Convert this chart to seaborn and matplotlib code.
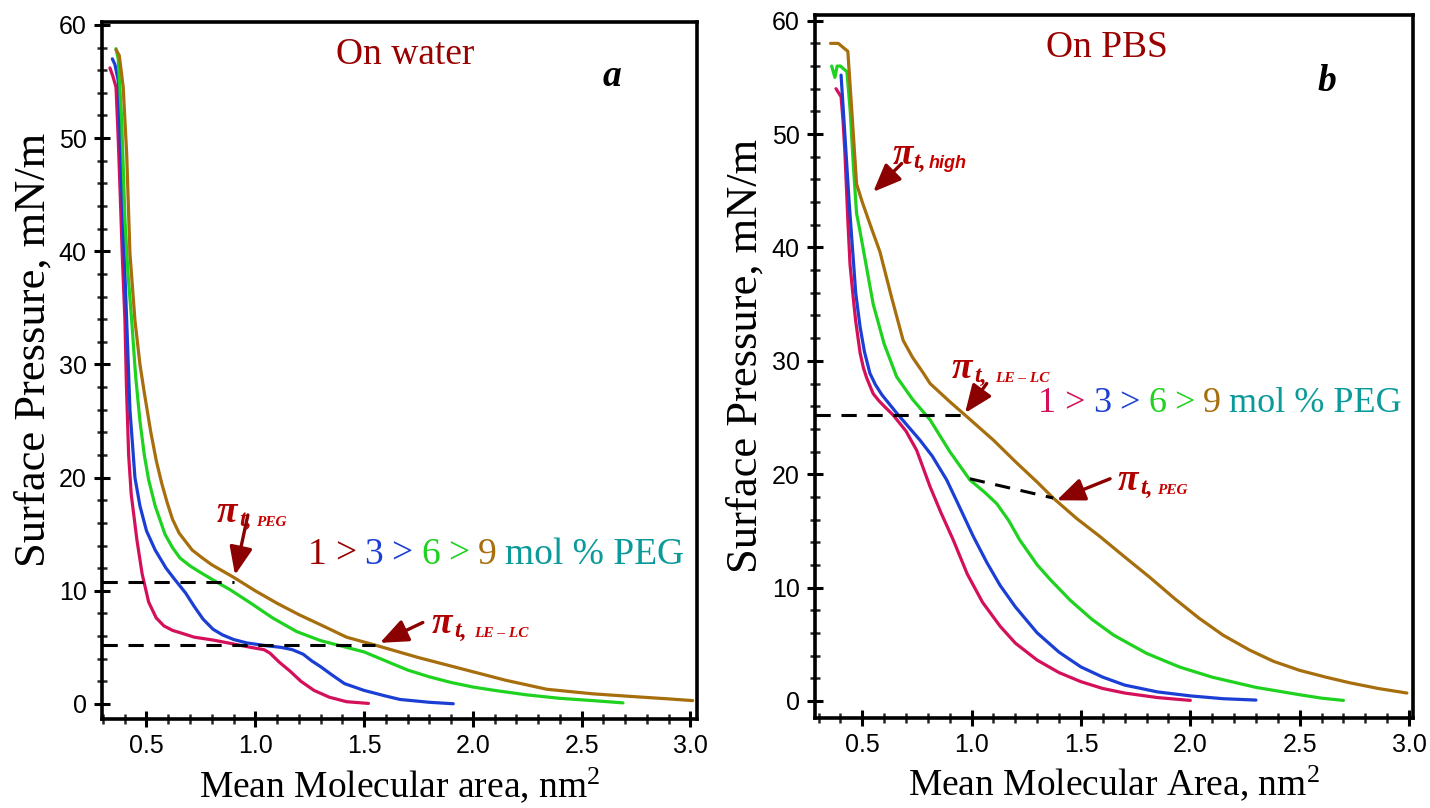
import numpy as np
import pandas as pd
import matplotlib
matplotlib.use("Agg")
import matplotlib.pyplot as plt
import seaborn as sns
from matplotlib.ticker import MultipleLocator
from matplotlib.offsetbox import TextArea, HPacker, AnchoredOffsetbox

# ---------------- data: Langmuir isotherms (area nm^2, pressure mN/m) ----------------
# (a) on water
water_1_x = [0.332, 0.345, 0.36, 0.37, 0.378, 0.39, 0.401, 0.408, 0.418, 0.43, 0.456, 0.48, 0.51,
             0.545, 0.58, 0.62, 0.654, 0.72, 0.806, 0.9, 0.98, 1.04, 1.067, 1.11, 1.16, 1.21, 1.27,
             1.34, 1.42, 1.52]
water_1_y = [56.2, 55.5, 54.5, 50.0, 45.7, 39.0, 33.9, 28.0, 22.0, 18.5, 14.5, 11.5, 9.0,
             7.6, 6.9, 6.5, 6.3, 5.9, 5.65, 5.3, 5.0, 4.8, 4.5, 3.7, 2.9, 2.0, 1.2,
             0.6, 0.2, 0.05]
water_3_x = [0.343, 0.355, 0.37, 0.378, 0.386, 0.397, 0.409, 0.424, 0.447, 0.47, 0.50, 0.54, 0.59,
             0.63, 0.68, 0.72, 0.76, 0.806, 0.85, 0.9, 0.96, 1.05, 1.12, 1.17, 1.22, 1.26, 1.30,
             1.35, 1.41, 1.5, 1.6, 1.665, 1.8, 1.91]
water_3_y = [57.0, 56.5, 55.1, 50.5, 45.7, 40.0, 33.9, 26.0, 20.0, 17.5, 15.3, 13.6, 12.0,
             11.0, 9.8, 8.6, 7.5, 6.6, 6.1, 5.7, 5.4, 5.15, 5.0, 4.8, 4.4, 3.8, 3.3,
             2.6, 1.8, 1.2, 0.7, 0.4, 0.15, 0.02]
water_6_x = [0.36, 0.37, 0.386, 0.401, 0.415, 0.432, 0.45, 0.47, 0.49, 0.51, 0.54, 0.585, 0.62,
             0.654, 0.70, 0.75, 0.82, 0.884, 0.98, 1.08, 1.19, 1.30, 1.40, 1.5, 1.6, 1.7, 1.8, 1.9,
             2.0, 2.1, 2.25, 2.4, 2.55, 2.69]
water_6_y = [57.9, 57.0, 51.6, 42.8, 38.0, 33.9, 29.0, 25.0, 22.0, 19.8, 17.5, 15.0, 13.8,
             12.9, 12.2, 11.6, 10.8, 10.1, 8.9, 7.6, 6.4, 5.6, 5.1, 4.6, 3.8, 3.0, 2.4, 1.9,
             1.5, 1.2, 0.8, 0.5, 0.3, 0.1]
water_9_x = [0.36, 0.375, 0.393, 0.409, 0.424, 0.447, 0.47, 0.49, 0.52, 0.545, 0.57, 0.595, 0.62,
             0.65, 0.71, 0.75, 0.8, 0.9, 1.0, 1.1, 1.2, 1.3, 1.42, 1.57, 1.75, 1.97, 2.15, 2.34,
             2.55, 2.74, 2.9, 3.01]
water_9_y = [57.8, 57.3, 54.5, 48.6, 39.8, 33.9, 30.0, 27.5, 24.0, 21.5, 19.5, 17.8, 16.3,
             15.1, 13.6, 13.0, 12.3, 11.2, 10.0, 8.9, 7.9, 7.0, 5.9, 5.1, 4.1, 3.0, 2.1, 1.3,
             0.9, 0.65, 0.45, 0.3]

# (b) on PBS
pbs_1_x = [0.38, 0.403, 0.412, 0.42, 0.435, 0.444, 0.459, 0.47, 0.49, 0.505, 0.52, 0.55, 0.575,
           0.60, 0.642, 0.70, 0.749, 0.81, 0.86, 0.916, 0.98, 1.05, 1.13, 1.2, 1.3, 1.4, 1.5, 1.6,
           1.7, 1.85, 2.0]
pbs_1_y = [54.0, 53.3, 51.2, 48.6, 42.0, 38.5, 35.5, 33.5, 30.7, 29.4, 28.5, 27.1, 26.5,
           26.0, 25.2, 23.8, 22.1, 18.9, 16.6, 14.2, 11.2, 8.7, 6.6, 5.1, 3.6, 2.5, 1.7, 1.1,
           0.7, 0.3, 0.05]
pbs_3_x = [0.403, 0.42, 0.44, 0.455, 0.47, 0.49, 0.51, 0.535, 0.56, 0.59, 0.657, 0.764, 0.82, 0.886,
           0.94, 1.008, 1.07, 1.13, 1.2, 1.3, 1.4, 1.5, 1.6, 1.7, 1.85, 2.0, 2.15, 2.3]
pbs_3_y = [55.2, 50.1, 44.0, 40.0, 36.0, 33.0, 30.8, 28.9, 27.9, 27.0, 25.4, 23.0, 21.6, 19.5,
           17.3, 14.5, 12.2, 10.2, 8.3, 6.0, 4.3, 3.0, 2.1, 1.4, 0.8, 0.45, 0.2, 0.08]
pbs_6_x = [0.36, 0.375, 0.385, 0.40, 0.43, 0.445, 0.46, 0.474, 0.489, 0.52, 0.55, 0.60, 0.657, 0.73,
           0.81, 0.90, 0.992, 1.06, 1.115, 1.17, 1.22, 1.30, 1.36, 1.45, 1.55, 1.65, 1.8, 1.95, 2.1,
           2.3, 2.5, 2.6, 2.7]
pbs_6_y = [56.0, 55.0, 56.0, 56.0, 55.5, 52.0, 47.0, 43.0, 41.5, 38.2, 35.0, 31.5, 28.6, 26.6,
           24.8, 22.0, 19.5, 18.4, 17.4, 15.9, 14.2, 12.0, 10.7, 8.9, 7.2, 5.8, 4.2, 3.0, 2.1,
           1.2, 0.55, 0.25, 0.05]
pbs_9_x = [0.355, 0.39, 0.434, 0.452, 0.474, 0.50, 0.54, 0.581, 0.634, 0.687, 0.71, 0.73, 0.78,
           0.81, 0.90, 0.977, 1.10, 1.206, 1.30, 1.373, 1.48, 1.587, 1.70, 1.815, 1.93, 2.04, 2.15,
           2.27, 2.38, 2.5, 2.62, 2.73, 2.86, 2.99]
pbs_9_y = [58.0, 58.0, 57.3, 52.1, 45.6, 44.0, 41.8, 39.6, 35.6, 31.8, 31.0, 30.3, 28.9,
           28.0, 26.4, 25.1, 23.0, 21.0, 19.3, 17.9, 16.1, 14.5, 12.7, 10.9, 9.0, 7.3, 5.8,
           4.5, 3.5, 2.7, 2.1, 1.6, 1.1, 0.7]

peg_levels = ["1", "3", "6", "9"]
x_ticks = [0.5, 1.0, 1.5, 2.0, 2.5, 3.0]
y_ticks = [0, 10, 20, 30, 40, 50, 60]

# transition pressures marked with dashed guides
water_pi_peg = 10.8
water_pi_lelc = 5.2
pbs_pi_lelc = 25.25
pbs_pi_peg = (19.6, 17.9)   # on 6 % and 9 % curves

# ---------------- style ----------------
MAGENTA = "#d4105a"
BLUE = "#1b3fd4"
GREEN = "#1fd21f"
BROWN = "#a66e0c"
TEAL = "#0b9a9a"
DARKRED = "#990000"
ARROW = "#8b0000"
PIRED = "#b00000"
palette = {"1": MAGENTA, "3": BLUE, "6": GREEN, "9": BROWN}

sns.set_theme(style="white")
plt.rcParams["font.family"] = ["Liberation Sans", "DejaVu Sans"]
plt.rcParams["mathtext.fontset"] = "custom"
plt.rcParams["mathtext.rm"] = "Liberation Serif"
plt.rcParams["mathtext.it"] = "Liberation Serif:italic"
SERIF = ["Liberation Serif", "DejaVu Serif"]


def long_frame(xs, ys):
    rows = []
    for lvl, x, y in zip(peg_levels, xs, ys):
        for i, (a, p) in enumerate(zip(x, y)):
            rows.append({"area": a, "pressure": p, "peg": lvl, "order": i})
    return pd.DataFrame(rows)


df_water = long_frame([water_1_x, water_3_x, water_6_x, water_9_x],
                      [water_1_y, water_3_y, water_6_y, water_9_y])
df_pbs = long_frame([pbs_1_x, pbs_3_x, pbs_6_x, pbs_9_x],
                    [pbs_1_y, pbs_3_y, pbs_6_y, pbs_9_y])

fig = plt.figure(figsize=(14.3, 8.08), dpi=100)
ax_a = fig.add_axes([0.0713, 0.1101, 0.4161, 0.8626])
ax_b = fig.add_axes([0.5699, 0.1114, 0.4182, 0.8700])


def style_axes(ax, xlim, ylim):
    ax.set_xlim(*xlim)
    ax.set_ylim(*ylim)
    ax.set_xticks(x_ticks)
    ax.set_yticks(y_ticks)
    ax.xaxis.set_minor_locator(MultipleLocator(0.1))
    ax.yaxis.set_minor_locator(MultipleLocator(2))
    ax.tick_params(which="major", direction="inout", length=12, width=2.2,
                   labelsize=18, color="black", labelcolor="black",
                   bottom=True, left=True, top=False, right=False, pad=5)
    ax.tick_params(which="minor", direction="inout", length=7, width=1.8,
                   bottom=True, left=True, top=False, right=False)
    ax.set_xticklabels([f"{t:.1f}" for t in x_ticks])
    ax.set_yticklabels([str(t) for t in y_ticks])
    for s in ax.spines.values():
        s.set_visible(True)
        s.set_color("black")
        s.set_linewidth(2.6)
    ax.grid(False)


def draw_curves(ax, df):
    sns.lineplot(data=df, x="area", y="pressure", hue="peg", palette=palette,
                 sort=False, estimator=None, units="peg", lw=2.3, legend=False, ax=ax,
                 solid_joinstyle="round", solid_capstyle="round")


def pi_label(ax, x, y, sub, t_dx=16, sub_dx=28, sub_family=None, sub_size=11):
    ax.annotate("π", (x, y), color=PIRED, fontsize=27, fontweight="bold",
                fontstyle="italic", family=SERIF, ha="left", va="baseline")
    ax.annotate("t,", (x, y), xytext=(t_dx, -3), textcoords="offset points",
                color=PIRED, fontsize=17, fontweight="bold", fontstyle="italic",
                family=SERIF, ha="left", va="baseline")
    ax.annotate(sub, (x, y), xytext=(sub_dx, -3), textcoords="offset points",
                color="#c80000", fontsize=sub_size, fontweight="bold", fontstyle="italic",
                family=sub_family or SERIF, ha="left", va="baseline")


def arrow(ax, tail, tip):
    ax.annotate("", xy=tip, xytext=tail,
                arrowprops=dict(arrowstyle="-|>,head_length=0.85,head_width=0.35",
                                color=ARROW, lw=2.4, mutation_scale=20,
                                shrinkA=0, shrinkB=0))


def ratio_row(ax, x, y, first_color, size=27, sep=6):
    parts = [("1", first_color), (">", first_color), ("3", BLUE), (">", BLUE),
             ("6", GREEN), (">", GREEN), ("9", BROWN), ("mol % PEG", TEAL)]
    boxes = [TextArea(t, textprops=dict(color=c, fontsize=size, family=SERIF))
             for t, c in parts]
    row = HPacker(children=boxes, align="baseline", pad=0, sep=sep)
    box = AnchoredOffsetbox(loc="center left", child=row, pad=0, borderpad=0,
                            frameon=False, bbox_to_anchor=(x, y),
                            bbox_transform=ax.transData)
    ax.add_artist(box)


# ---------------- (a) on water ----------------
draw_curves(ax_a, df_water)
style_axes(ax_a, (0.2954, 3.03), (-1.33, 60.25))
ax_a.plot([0.2954, 0.90], [water_pi_peg, water_pi_peg], color="black", lw=2.2,
          dashes=(5, 3.5))
ax_a.plot([0.2954, 1.55], [water_pi_lelc, water_pi_lelc], color="black", lw=2.2,
          dashes=(5, 3.5))
ax_a.text(1.688, 57.4, "On water", color=DARKRED, fontsize=27, family=SERIF,
          ha="center", va="center")
ax_a.text(2.64, 55.4, "a", color="black", fontsize=27, family=SERIF,
          fontweight="bold", fontstyle="italic", ha="center", va="center")
ratio_row(ax_a, 1.242, 13.2, DARKRED, size=27, sep=6)
pi_label(ax_a, 0.824, 16.1, "PEG")
arrow(ax_a, (0.966, 16.7), (0.907, 11.4))
pi_label(ax_a, 1.812, 6.3, "LE – LC", t_dx=16, sub_dx=30)
arrow(ax_a, (1.77, 7.2), (1.573, 5.4))
ax_a.set_xlabel(r"Mean Molecular area, nm$^{2}$", fontsize=27, family=SERIF, color="black")
ax_a.set_ylabel("Surface Pressure, mN/m", fontsize=32, family=SERIF, color="black")
ax_a.xaxis.set_label_coords(0.5, -0.112)
ax_a.xaxis.label.set_va("baseline")
ax_a.yaxis.set_label_coords(-0.082, 0.53)

# ---------------- (b) on PBS ----------------
draw_curves(ax_b, df_pbs)
style_axes(ax_b, (0.2837, 3.018), (-1.5, 60.5))
ax_b.plot([0.2837, 0.977], [pbs_pi_lelc, pbs_pi_lelc], color="black", lw=2.2,
          dashes=(5, 3.5))
ax_b.plot([0.992, 1.373], list(pbs_pi_peg), color="black", lw=2.2, dashes=(5, 3.5))
ax_b.text(1.619, 57.6, "On PBS", color=DARKRED, fontsize=27, family=SERIF,
          ha="center", va="center")
ax_b.text(2.625, 54.6, "b", color="black", fontsize=27, family=SERIF,
          fontweight="bold", fontstyle="italic", ha="center", va="center")
ratio_row(ax_b, 1.303, 26.2, MAGENTA, size=26, sep=6)
pi_label(ax_b, 0.64, 47.4, "high", t_dx=15, sub_dx=26,
         sub_family=["Liberation Sans", "DejaVu Sans"], sub_size=13)
arrow(ax_b, (0.68, 47.4), (0.55, 44.9))
pi_label(ax_b, 0.909, 28.5, "LE – LC", t_dx=16, sub_dx=31)
arrow(ax_b, (1.069, 28.0), (0.97, 25.4))
pi_label(ax_b, 1.669, 18.6, "PEG")
arrow(ax_b, (1.633, 19.6), (1.389, 17.7))
ax_b.set_xlabel(r"Mean Molecular Area, nm$^{2}$", fontsize=27, family=SERIF, color="black")
ax_b.set_ylabel("Surface Pressure, mN/m", fontsize=32, family=SERIF, color="black")
ax_b.xaxis.set_label_coords(0.5, -0.11)
ax_b.xaxis.label.set_va("baseline")
ax_b.yaxis.set_label_coords(-0.082, 0.515)

fig.savefig("out.png", dpi=100, facecolor="white")
